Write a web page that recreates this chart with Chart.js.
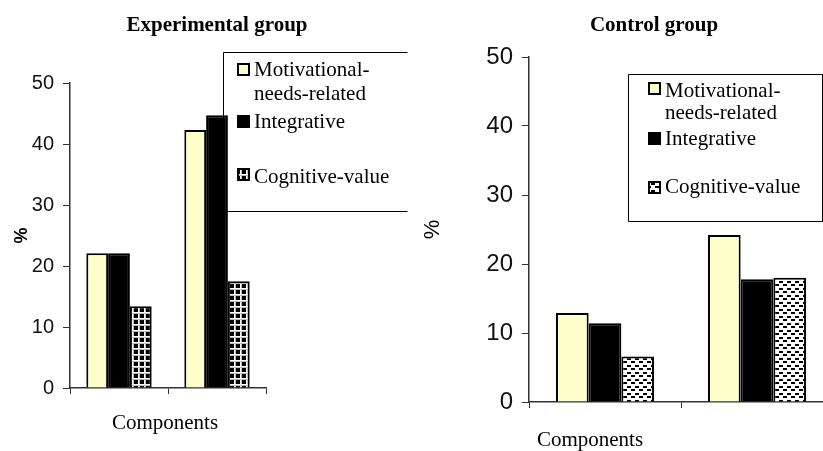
<!DOCTYPE html>
<html>
<head>
<meta charset="utf-8">
<script src="https://cdn.jsdelivr.net/npm/chart.js@4.4.1/dist/chart.umd.min.js"></script>
<style>
  html, body { margin: 0; padding: 0; background: #fff; }
  #page { position: relative; width: 823px; height: 451px; overflow: hidden; }
  canvas { position: absolute; top: 0; }
  .label {
    position: absolute; width: 300px; text-align: center; white-space: nowrap;
    font-family: "Liberation Serif", "Times New Roman", serif;
    font-size: 21px; line-height: 21px; color: #000;
  }
  .title { font-weight: bold; }
</style>
</head>
<body>
<div id="page">
  <canvas id="expChart" width="410" height="451" style="left:0"></canvas>
  <canvas id="ctrlChart" width="450" height="451" style="left:410px"></canvas>
  <div class="label title" style="left:67px; top:14px">Experimental group</div>
  <div class="label title" style="left:504px; top:14px">Control group</div>
  <div class="label" style="left:15px; top:412px">Components</div>
  <div class="label" style="left:440px; top:429px">Components</div>
</div>
<script>
// values (percent)
const categories = ['', ''];
const seriesNames = ['Motivational-needs-related', 'Integrative', 'Cognitive-value'];
const legendLines = [['Motivational-', 'needs-related'], ['Integrative'], ['Cognitive-value']];

const expMotivational = [22.1, 42.3];
const expIntegrative = [22.1, 44.7];
const expCognitive = [13.4, 17.5];

const ctrlMotivational = [12.9, 24.2];
const ctrlIntegrative = [11.4, 17.8];
const ctrlCognitive = [6.6, 18.0];

const yTicks = [0, 10, 20, 30, 40, 50];

// fill patterns for the third series
function gridPattern() {
    const c = document.createElement('canvas');
    c.width = 6; c.height = 6;
    const g = c.getContext('2d');
    g.fillStyle = '#000';
    g.fillRect(0, 0, 6, 6);
    g.fillStyle = '#fff';
    g.fillRect(0, 0, 6, 1);
    g.fillRect(0, 0, 1, 6);
    g.fillStyle = '#bbb';
    g.fillRect(0, 1, 6, 1);
    g.fillRect(1, 1, 1, 5);
    return g.createPattern(c, 'repeat');
}

function dashPattern() {
    const c = document.createElement('canvas');
    c.width = 8; c.height = 7;
    const g = c.getContext('2d');
    g.fillStyle = '#fff';
    g.fillRect(0, 0, 8, 7);
    g.fillStyle = '#000';
    g.fillRect(1, 1, 4, 2);
    g.fillRect(5, 4, 3, 2);
    g.fillRect(0, 4, 1, 2);
    return g.createPattern(c, 'repeat');
}

// legend drawn as a box behind the bars, like the original
const boxLegend = {
    id: 'boxLegend',
    beforeDatasetsDraw(chart, args, opts) {
        const ctx = chart.ctx;
        const b = opts.box;
        ctx.save();
        ctx.fillStyle = '#fff';
        ctx.fillRect(b.x, b.y, b.w, b.h);
        ctx.strokeStyle = '#000';
        ctx.lineWidth = 1;
        ctx.beginPath();
        const l = b.x + 0.5, t = b.y + 0.5, r = b.x + b.w - 0.5, bt = b.y + b.h - 0.5;
        if (opts.sides.includes('top')) { ctx.moveTo(l, t); ctx.lineTo(r, t); }
        if (opts.sides.includes('left')) { ctx.moveTo(l, t); ctx.lineTo(l, bt); }
        if (opts.sides.includes('bottom')) { ctx.moveTo(l, bt); ctx.lineTo(r, bt); }
        if (opts.sides.includes('right')) { ctx.moveTo(r, t); ctx.lineTo(r, bt); }
        ctx.stroke();

        ctx.font = '21px "Liberation Serif", "Times New Roman", serif';
        ctx.textBaseline = 'alphabetic';
        ctx.textAlign = 'left';
        chart.data.datasets.forEach((ds, i) => {
            const my = opts.markerTops[i];
            ctx.fillStyle = ds.backgroundColor;
            ctx.fillRect(opts.markerX, my, opts.markerSize, opts.markerSize);
            ctx.lineWidth = 2;
            ctx.strokeStyle = '#000';
            ctx.strokeRect(opts.markerX, my, opts.markerSize, opts.markerSize);
            ctx.fillStyle = '#000';
            legendLines[i].forEach((line, j) => {
                ctx.fillText(line, opts.textX, opts.baselines[i][j]);
            });
        });
        ctx.restore();
    }
};

function makeChart(id, values, pattern, s) {
    const ctx = document.getElementById(id).getContext('2d');
    const fills = ['#FFFFCC', '#000000', pattern];
    return new Chart(ctx, {
        type: 'bar',
        data: {
            labels: categories,
            datasets: seriesNames.map((name, i) => ({
                label: name,
                data: values[i],
                backgroundColor: fills[i],
                borderColor: '#000',
                borderWidth: 2,
                categoryPercentage: s.catPct,
                barPercentage: 1
            }))
        },
        options: {
            responsive: false,
            animation: false,
            devicePixelRatio: 1,
            layout: { padding: { left: 0, right: s.padRight, top: s.padTop, bottom: 0 } },
            plugins: {
                legend: { display: false },
                tooltip: { enabled: false },
                boxLegend: s.legend
            },
            scales: {
                x: {
                    ticks: { display: false },
                    grid: { drawOnChartArea: false, drawTicks: true, tickLength: 6, tickColor: '#333', offset: true },
                    border: { display: true, color: '#333', width: 1.5 },
                    afterFit: (scale) => { scale.height = s.xHeight; }
                },
                y: {
                    min: yTicks[0],
                    max: yTicks[yTicks.length - 1],
                    ticks: {
                        stepSize: yTicks[1] - yTicks[0],
                        color: '#111',
                        padding: s.tickPad,
                        font: { family: '"Liberation Sans", Arial, sans-serif', size: s.tickSize }
                    },
                    grid: { drawOnChartArea: false, drawTicks: true, tickLength: 7, tickColor: '#333' },
                    border: { display: true, color: '#333', width: 1.5 },
                    title: {
                        display: true,
                        text: '%',
                        color: '#000',
                        padding: { top: s.pctPad, bottom: 0 },
                        font: { family: '"Liberation Sans", Arial, sans-serif', size: s.pctSize, weight: s.pctWeight }
                    },
                    afterFit: (scale) => { scale.width = s.yWidth; }
                }
            }
        },
        plugins: [boxLegend]
    });
}

makeChart('expChart', [expMotivational, expIntegrative, expCognitive], gridPattern(), {
    catPct: 0.667, padRight: 144, padTop: 83, xHeight: 63, yWidth: 70,
    tickPad: 9, tickSize: 20, pctPad: 11, pctSize: 18, pctWeight: 'bold',
    legend: {
        box: { x: 223, y: 52, w: 185, h: 160 },
        sides: ['top', 'left', 'bottom'],
        markerX: 238, markerSize: 11, markerTops: [64, 116, 169],
        textX: 254, baselines: [[76, 100], [128], [183]]
    }
});

makeChart('ctrlChart', [ctrlMotivational, ctrlIntegrative, ctrlCognitive], dashPattern(), {
    catPct: 0.645, padRight: 27, padTop: 57, xHeight: 49, yWidth: 119,
    tickPad: 9, tickSize: 24, pctPad: 10, pctSize: 22, pctWeight: 'normal',
    legend: {
        box: { x: 218, y: 74, w: 195, h: 148 },
        sides: ['top', 'left', 'bottom', 'right'],
        markerX: 239, markerSize: 11, markerTops: [83, 133, 182],
        textX: 255, baselines: [[97, 119], [145], [193]]
    }
});
</script>
</body>
</html>
